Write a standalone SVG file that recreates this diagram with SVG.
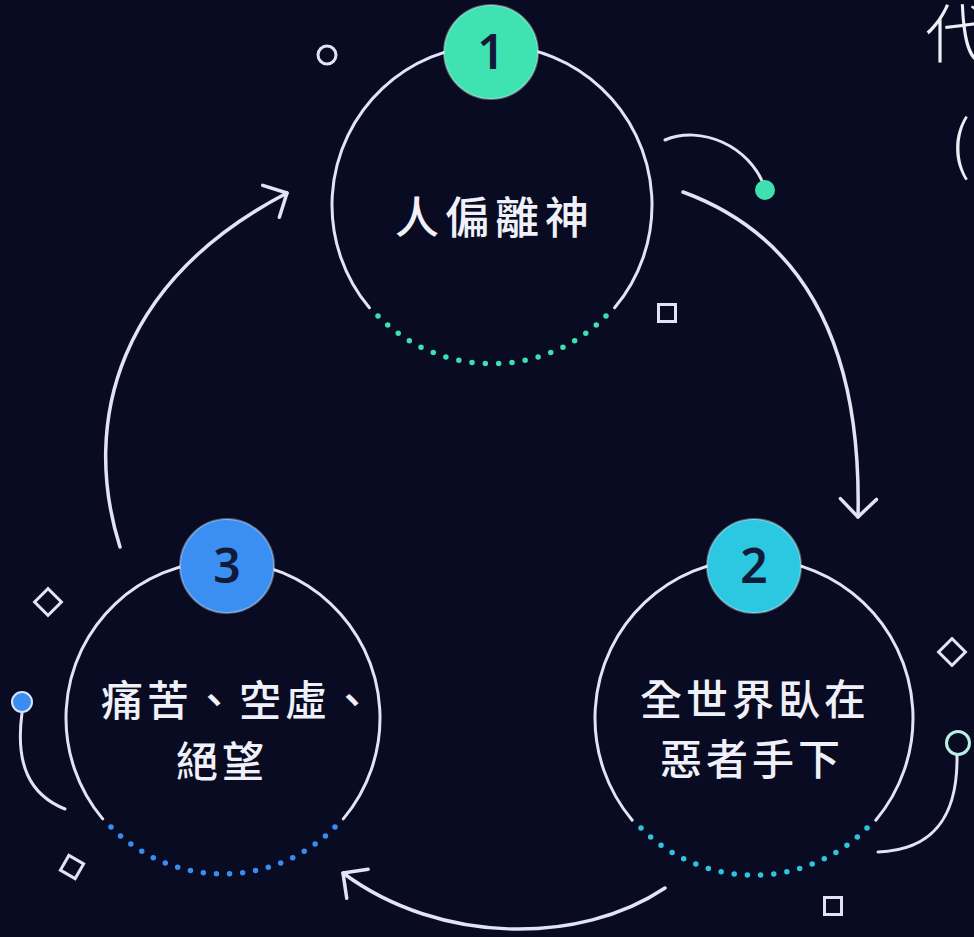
<svg xmlns="http://www.w3.org/2000/svg" width="974" height="937" viewBox="0 0 974 937">
  <defs>
    <style>
      .ring { fill: none; stroke: #e4e2f4; stroke-width: 3; stroke-linecap: round; }
      .dots { fill: none; stroke-width: 5.5; stroke-linecap: round; stroke-dasharray: 0 1; }
      .badge { stroke: rgba(255,255,255,0.35); stroke-width: 2; }
      .num { font-family: "Noto Sans", "Liberation Sans", sans-serif; font-weight: 600; font-size: 48px; fill: #121a3a; text-anchor: middle; }
      .label { font-family: "Noto Sans CJK TC", "Noto Sans CJK SC", sans-serif; font-weight: 500; font-size: 42px; fill: #f0f0f8; text-anchor: middle; letter-spacing: 4px; }
      .conn { fill: none; stroke: #e4e2f4; stroke-width: 3.5; stroke-linecap: round; marker-end: url(#arrow); }
      .deco { fill: none; stroke: #e4e2f4; stroke-width: 3; stroke-linecap: round; }
      .title { font-family: "Noto Sans CJK TC", "Noto Sans CJK SC", sans-serif; font-weight: 300; font-size: 64px; fill: #eeeef6; }
    </style>
    <marker id="arrow" markerUnits="userSpaceOnUse" markerWidth="40" markerHeight="40" viewBox="-20 -20 40 40" refX="0" refY="0" orient="auto" overflow="visible">
      <path d="M-18,-18 L0,0 L-18,18" fill="none" stroke="#e4e2f4" stroke-width="3.5" stroke-linecap="round" stroke-linejoin="round"/>
    </marker>
  </defs>

  <rect x="0" y="0" width="974" height="937" fill="#080b21"/>

  <g id="title">
    <text class="title" x="925" y="57">代</text>
    <text class="title" x="950" y="168">(</text>
  </g>

  <g id="connectors">
    <path class="conn" d="M683,192 C800,235 862,340 858,517"/>
    <path class="conn" d="M665,888 C580,945 440,945 343,873"/>
    <path class="conn" d="M120,547 C80,420 120,280 287,193"/>
  </g>

  <g id="decorations">
    <circle class="deco" cx="327" cy="55" r="9"/>
    <path class="deco" d="M665,140 C700,125 750,145 765,188"/>
    <circle cx="765" cy="190" r="10" fill="#3ee0b0"/>
    <rect class="deco" x="658.5" y="304.5" width="17" height="17"/>
    <rect class="deco" x="824.5" y="897.5" width="17" height="17"/>
    <rect class="deco" x="-9.5" y="-9.5" width="19" height="19" transform="translate(48,602) rotate(45)"/>
    <rect class="deco" x="-8.5" y="-8.5" width="17" height="17" transform="translate(72,867) rotate(30)"/>
    <rect class="deco" x="-9.5" y="-9.5" width="19" height="19" transform="translate(952,652) rotate(45)"/>
    <path class="deco" d="M22,713 C15,765 30,795 65,809"/>
    <circle cx="22" cy="702" r="10" fill="#3a8df0" stroke="#d6e4ff" stroke-width="2"/>
    <path class="deco" d="M957,755 C958,815 935,850 878,852"/>
    <circle cx="958" cy="743" r="11.5" fill="#080b21" stroke="#b8f0e6" stroke-width="3"/>
  </g>

  <g id="node-1">
    <path class="ring" d="M369.4,307.8 A160,160 0 1 1 614.6,307.8"/>
    <path class="dots" stroke="#3ee0b0" pathLength="19" d="M606,316 A160,160 0 0 1 378,316"/>
    <circle class="badge" cx="491" cy="52" r="47" fill="#3fe3b2"/>
    <text class="num" x="491" y="69">1</text>
    <text class="label" x="495" y="234" style="font-size:44px;letter-spacing:6px">人偏離神</text>
  </g>

  <g id="node-2">
    <path class="ring" d="M632.2,820.2 A159,159 0 1 1 875.8,820.2"/>
    <path class="dots" stroke="#2ec5dc" pathLength="19" d="M867,828 A159,159 0 0 1 641,828"/>
    <circle class="badge" cx="754" cy="566" r="47" fill="#2cc8e2"/>
    <text class="num" x="754" y="583">2</text>
    <text class="label" x="755" y="715">全世界臥在</text>
    <text class="label" x="752" y="775">惡者手下</text>
  </g>

  <g id="node-3">
    <path class="ring" d="M102.7,818.9 A157,157 0 1 1 343.3,818.9"/>
    <path class="dots" stroke="#3a8df0" pathLength="19" d="M335,827 A157,157 0 0 1 111,827"/>
    <circle class="badge" cx="227" cy="566" r="47" fill="#3b8ff2"/>
    <text class="num" x="227" y="583">3</text>
    <text class="label" x="239" y="716">痛苦、空虛、</text>
    <text class="label" x="222" y="777">絕望</text>
  </g>
</svg>
